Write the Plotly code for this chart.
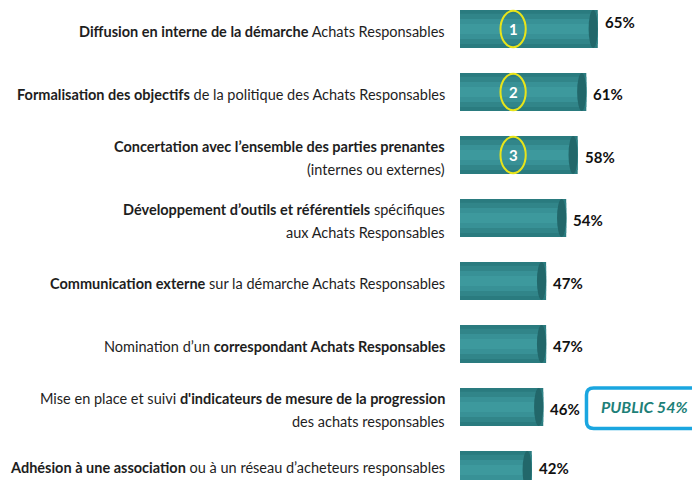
import plotly.graph_objects as go

# ---------------- data ----------------
labels = [
    ["<b>Diffusion en interne de la démarche</b> Achats Responsables"],
    ["<b>Formalisation des objectifs</b> de la politique des Achats Responsables"],
    ["<b>Concertation avec l’ensemble des parties prenantes</b>", "(internes ou externes)"],
    ["<b>Développement d’outils et référentiels</b> spécifiques", "aux Achats Responsables"],
    ["<b>Communication externe</b> sur la démarche Achats Responsables"],
    ["Nomination d’un <b>correspondant Achats Responsables</b>"],
    ["Mise en place et suivi <b>d'indicateurs de mesure de la progression</b>", "des achats responsables"],
    ["<b>Adhésion à une association</b> ou à un réseau d’acheteurs responsables"],
]
values = [65, 61, 58, 54, 47, 47, 46, 42]
ranks = ["1", "2", "3"]
callout_text = "PUBLIC 54%"
callout_row = 6

# ---------------- style ----------------
FONT = "Lato, Liberation Sans, sans-serif"
TEXT = "#1e1e1e"
BAR_LAYERS = [(0.60, "#2a7b7f"), (0.48, "#318589"), (0.32, "#389196"), (0.16, "#3d999d")]
CAP = "#22676a"
HALF = 0.30

pos = list(range(len(values)))

fig = go.Figure()
for w, c in BAR_LAYERS:
    fig.add_trace(go.Bar(x=values, y=pos, orientation="h", width=w,
                         marker=dict(color=c, line=dict(width=0)),
                         hoverinfo="skip", showlegend=False))
fig.update_layout(barmode="overlay")

shapes = []
annotations = []
last = len(values) - 1
for i, v in enumerate(values):
    # cylinder end cap
    shapes.append(dict(type="circle", xref="x", yref="y", x0=v - 3.2, x1=v,
                       y0=i - HALF, y1=i + HALF, fillcolor=CAP,
                       line=dict(width=0), layer="above"))
    # value label
    annotations.append(dict(x=v, y=i, xref="x", yref="y", xanchor="left",
                            yanchor="middle", xshift=5,
                            yshift=7 if i == 0 else (2 if i == last else -2),
                            text=f"<b>{v}%</b>", showarrow=False,
                            font=dict(family=FONT, size=15, color="#111111")))
    # category labels
    lines = labels[i]
    n = len(lines)
    base = -2 if i == last else 3
    for j, line in enumerate(lines):
        off = (j - (n - 1) / 2) * 23 + base
        annotations.append(dict(x=0, y=i, xref="paper", yref="y",
                                xanchor="right", yanchor="middle", xshift=-13,
                                yshift=-off, text=line, showarrow=False,
                                font=dict(family=FONT, size=14.5, color=TEXT)))

# rank markers
RANK_X = 35.5
for i, r in enumerate(ranks):
    shapes.append(dict(type="circle", xref="x", yref="y", x0=RANK_X - 4.4,
                       x1=RANK_X + 4.4, y0=i - 0.29, y1=i + 0.29,
                       line=dict(color="#e8e41a", width=2), layer="above"))
    annotations.append(dict(x=RANK_X, y=i, xref="x", yref="y", text=f"<b>{r}</b>",
                            xanchor="center", showarrow=False,
                            font=dict(family=FONT, size=15, color="white")))

# callout box
x0, x1 = 0.527, 1.03
y0, y1 = callout_row - 0.30, callout_row + 0.34
rx, ry = 0.03, 0.11
path = (f"M {x0+rx},{y0} L {x1-rx},{y0} Q {x1},{y0} {x1},{y0+ry} "
        f"L {x1},{y1-ry} Q {x1},{y1} {x1-rx},{y1} L {x0+rx},{y1} "
        f"Q {x0},{y1} {x0},{y1-ry} L {x0},{y0+ry} Q {x0},{y0} {x0+rx},{y0} Z")
shapes.append(dict(type="path", xref="paper", yref="y", path=path,
                   line=dict(color="#1aa6e0", width=3.5), fillcolor="white",
                   layer="above"))
annotations.append(dict(x=0.77, y=callout_row, xref="paper", yref="y",
                        xanchor="center", yanchor="middle",
                        text=f"<b><i>{callout_text}</i></b>", showarrow=False,
                        font=dict(family=FONT, size=16, color="#1d7f78")))

# page body has an 8px margin: figure sized to the visible window area
fig.update_layout(
    width=692, height=472,
    margin=dict(l=452, r=0, t=0, b=0),
    paper_bgcolor="white", plot_bgcolor="white",
    xaxis=dict(range=[17, 100.6], visible=False, fixedrange=True),
    yaxis=dict(range=[7.159, -0.333], visible=False, fixedrange=True),
    shapes=shapes, annotations=annotations,
    showlegend=False,
)

fig.write_html("out.html")
